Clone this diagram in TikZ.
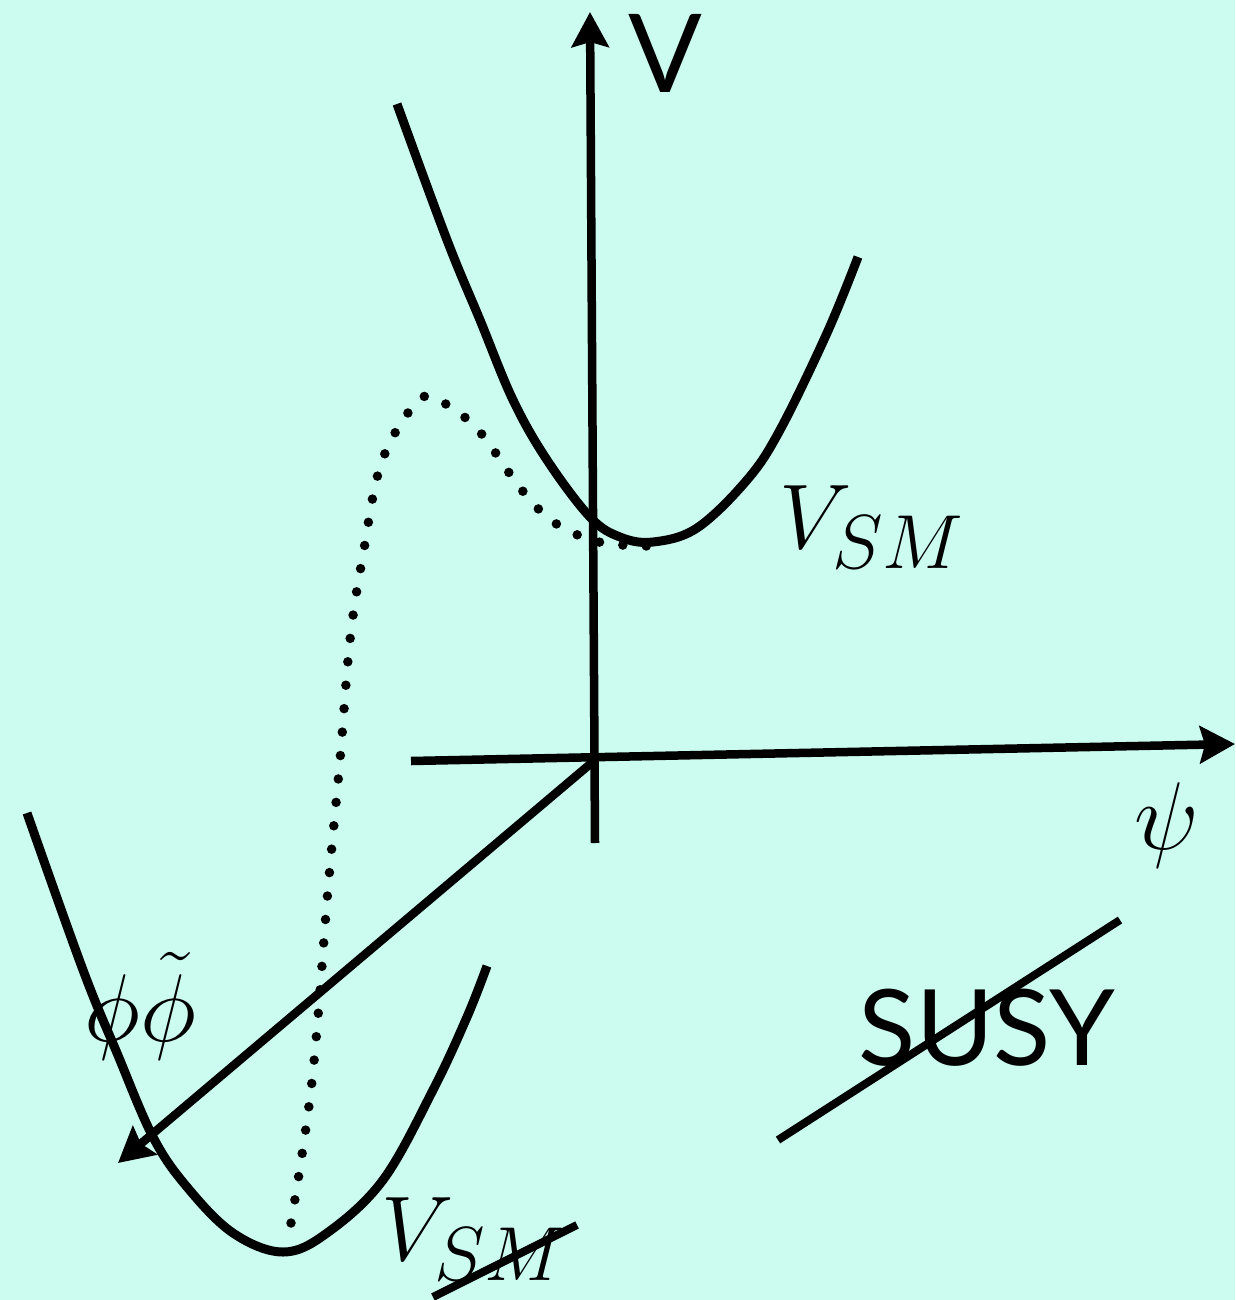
\documentclass[tikz,border=0pt]{standalone}
\usepackage{graphicx}
\usepackage{fontspec}
\newfontfamily\wordfont{Lato}
\usetikzlibrary{arrows.meta}
\definecolor{bgcyan}{RGB}{204,252,240}
\newcommand{\bigmath}[2][1.1]{\scalebox{#1}{\Huge$#2$}}
\tikzset{
  axis/.style={line width=0.085cm, -{Stealth[length=0.35cm,width=0.37cm,inset=0.05cm]}},
  curve/.style={line width=0.09cm},
  dotcurve/.style={line width=0.095cm, line cap=round, dash pattern=on 0pt off 0.235cm},
  slash/.style={line width=0.08cm},
  mathlbl/.style={inner sep=0pt},
  wordlbl/.style={inner sep=0pt, font=\wordfont\fontsize{30}{36}\selectfont}
}

\begin{document}
\begin{tikzpicture}[x=0.01cm,y=-0.01cm]
  \fill[bgcyan] (0,0) rectangle (1235,1300);
  \useasboundingbox (0,0) rectangle (1235,1300);

  % axes
  \coordinate (O)  at (595,760);
  \coordinate (Vb) at (595,843);
  \coordinate (Vt) at (590,12);
  \coordinate (Hl) at (411,761);
  \coordinate (Hr) at (1235,744);
  \coordinate (Dt) at (118,1163);
  \draw[axis] (Vb) -- (Vt);
  \draw[axis] (Hl) -- (Hr);
  \draw[axis] (O) -- (Dt);

  % potentials
  \draw[curve] plot[smooth, tension=0.6] coordinates {(397,104) (447,240) (480,320) (513,400)
    (547,460) (590,517) (620,537) (653,542) (697,528) (747,480) (780,430) (827,333) (858,257)};
  \draw[curve] plot[smooth, tension=0.6] coordinates {(27,813) (83,970) (117,1053) (153,1137)
    (187,1187) (233,1233) (283,1252) (327,1233) (383,1180) (433,1090) (467,1017) (487,966)};
  \draw[dotcurve] plot[smooth, tension=0.6] coordinates {(291,1223) (312,1081) (328,889)
    (340,760) (350,640) (363,555) (382,461) (418,401) (442,402) (479,431) (521,489)
    (555,523) (599,542) (647,546)};

  \node[wordlbl, font=\wordfont\fontsize{31}{36}\selectfont] (vlab) at (665,53) {V};
  \node[mathlbl] (psi) at (1167,825) {\bigmath{\psi}};
  \node[mathlbl, anchor=base] (phi) at (140,1041) {\bigmath{\phi\tilde{\phi}}};
  \node[mathlbl, anchor=base west] (vsm) at (779,548) {\bigmath[1.05]{V_{SM}}};
  \node[mathlbl, anchor=base west] (vsmb) at (381,1260) {\bigmath[1.05]{V_{SM}}};
  \node[wordlbl] (susy) at (987,1028) {SUSY};

  % crossed out
  \coordinate (a1) at (433,1297);
  \coordinate (a2) at (577,1225);
  \coordinate (b1) at (778,1140);
  \coordinate (b2) at (1120,920);
  \draw[slash] (a1) -- (a2);
  \draw[slash] (b1) -- (b2);
\end{tikzpicture}
\end{document}
